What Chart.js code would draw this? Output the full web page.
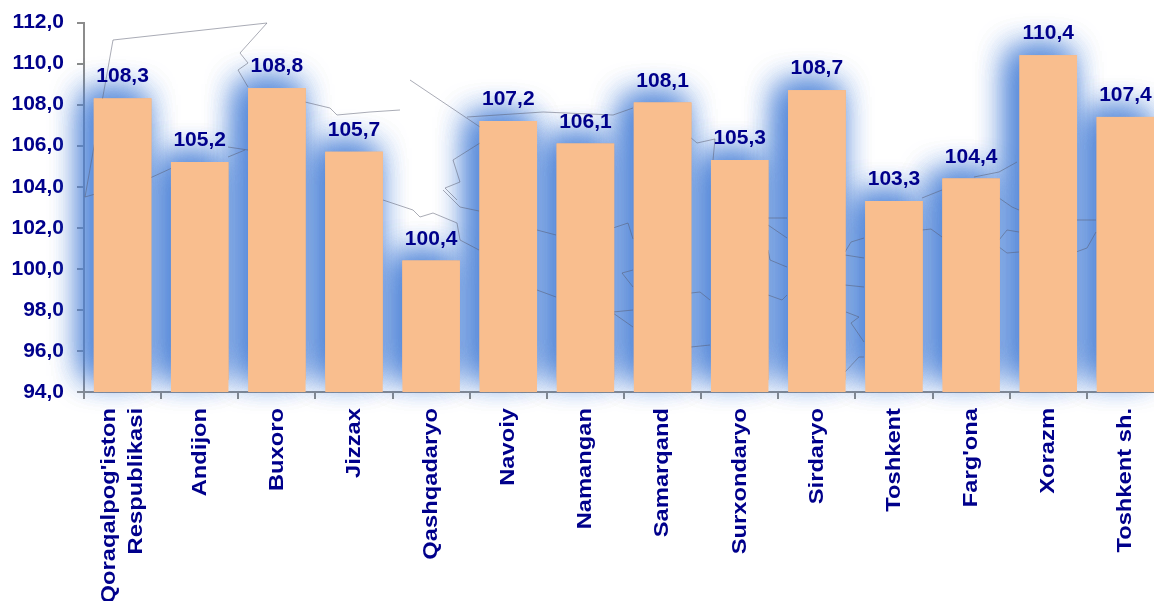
<!DOCTYPE html>
<html><head><meta charset="utf-8">
<style>html,body{margin:0;padding:0;background:#fff;overflow:hidden}#w{position:relative;width:1154px;height:601px;overflow:hidden}canvas{position:absolute;left:0;top:0}</style>
<script src="https://cdn.jsdelivr.net/npm/chart.js@4"></script></head>
<body><div id="w"><canvas id="c" width="1164" height="640"></canvas></div>
<script>
const categories=[["Qoraqalpog'iston","Respublikasi"],"Andijon","Buxoro","Jizzax","Qashqadaryo","Navoiy","Namangan","Samarqand","Surxondaryo","Sirdaryo","Toshkent","Farg'ona","Xorazm","Toshkent sh."];
const values=[108.3,105.2,108.8,105.7,100.4,107.2,106.1,108.1,105.3,108.7,103.3,104.4,110.4,107.4];
const valueLabels=["108,3","105,2","108,8","105,7","100,4","107,2","106,1","108,1","105,3","108,7","103,3","104,4","110,4","107,4"];
const navy="#00008B";
const fontFam="'Liberation Sans',Arial,sans-serif";
// faint decorative map outlines behind the bars (background picture, not data)
const mapOutlines=[
[[85,197],[113,40],[267,23],[240,53],[248,63],[238,70],[248,87]],
[[305,102],[330,108],[337,115],[370,112],[400,110]],
[[85,197],[150,178],[172,168]],
[[228,157],[245,150]],[[228,147],[248,150]],
[[410,80],[480,127]],
[[467,117],[543,112],[613,115],[633,108]],
[[690,137],[697,143],[715,139],[713,160]],
[[480,143],[453,160],[460,182],[445,188],[457,200]],
[[443,190],[460,207],[479,211]],
[[383,200],[413,210],[420,217],[433,213],[457,223],[460,240],[479,250]],
[[537,230],[556,235]],[[537,290],[556,297]],
[[613,228],[628,223],[633,239]],
[[622,273],[633,270]],[[622,273],[633,287]],
[[613,312],[633,310]],[[613,313],[633,327]],
[[691,293],[700,292],[710,300]],[[691,347],[710,345]],
[[768,218],[787,218]],[[768,225],[787,238]],
[[768,250],[770,260],[782,265],[787,267]],
[[768,295],[782,300],[787,295]],
[[845,285],[864,287]],[[845,252],[851,242],[864,238]],[[845,255],[864,258]],
[[846,312],[859,317],[851,323],[864,342]],
[[845,372],[859,357],[864,357]],
[[922,198],[942,190]],[[974,177],[999,172],[1017,162]],
[[999,198],[1012,207],[1019,210]],
[[922,230],[931,229],[942,237]],
[[999,247],[1007,253],[1019,252]],[[999,240],[1007,230],[1019,232]],
[[1076,220],[1096,220]],[[1076,252],[1087,248],[1096,232]]
];
const glowPlugin={id:'glow',beforeDatasetsDraw(ch){const c=ch.ctx;const m=ch.getDatasetMeta(0);const bottom=ch.scales.y.bottom;c.save();
 c.shadowColor='rgba(75,130,215,0.7)';c.shadowBlur=32;c.shadowOffsetX=-9;c.shadowOffsetY=-4;c.fillStyle='#F9BE8E';
 for(let k=0;k<3;k++)m.data.forEach(b=>{c.fillRect(b.x-b.width/2,b.y,b.width,bottom-12-b.y);});c.restore();
 c.save();c.strokeStyle='rgba(85,90,110,0.5)';c.lineWidth=1;c.lineJoin='round';
 mapOutlines.forEach(p=>{c.beginPath();p.forEach((q,i)=>i?c.lineTo(q[0],q[1]):c.moveTo(q[0],q[1]));c.stroke();});c.restore();}};
const labelsPlugin={id:'lbl',afterDatasetsDraw(ch){const c=ch.ctx;const m=ch.getDatasetMeta(0);c.save();c.fillStyle=navy;c.font="bold 21px "+fontFam;c.textAlign='center';c.textBaseline='alphabetic';m.data.forEach((b,i)=>c.fillText(valueLabels[i],b.x,b.y-16));
 const xs=ch.scales.x;c.textAlign='right';c.textBaseline='middle';
 categories.forEach((lab,i)=>{const lines=Array.isArray(lab)?lab:[lab];const x0=xs.getPixelForTick(i);lines.forEach((t,j)=>{const off=(j-(lines.length-1)/2)*27;c.save();c.translate(x0+off,408);c.rotate(-Math.PI/2);c.scale(1.13,1);c.fillText(t,0,0);c.restore();});});
 c.restore();}};
new Chart(document.getElementById('c'),{type:'bar',
data:{labels:categories,datasets:[{data:values,backgroundColor:'#F9BE8E',borderWidth:0,categoryPercentage:0.745,barPercentage:1}]},
options:{responsive:false,animation:false,
layout:{padding:{left:0,right:0,top:22.5,bottom:0}},
plugins:{legend:{display:false},tooltip:{enabled:false}},
scales:{
x:{afterFit(s){s.height=248},grid:{display:true,drawOnChartArea:false,drawTicks:true,tickLength:7,color:'#8c8c8c',lineWidth:2,offset:true},border:{color:'#8c8c8c',width:2},ticks:{display:false}},
y:{min:94,max:112,afterFit(s){s.width=84;s.paddingTop=0;s.paddingBottom=0},grid:{display:true,drawOnChartArea:false,tickLength:7,color:'#8c8c8c',lineWidth:2},border:{color:'#8c8c8c',width:2},ticks:{stepSize:2,color:navy,font:{family:fontFam,size:21,weight:'bold'},padding:13,callback:v=>v.toFixed(1).replace('.',',')}}
}},plugins:[glowPlugin,labelsPlugin]});
</script></body></html>
